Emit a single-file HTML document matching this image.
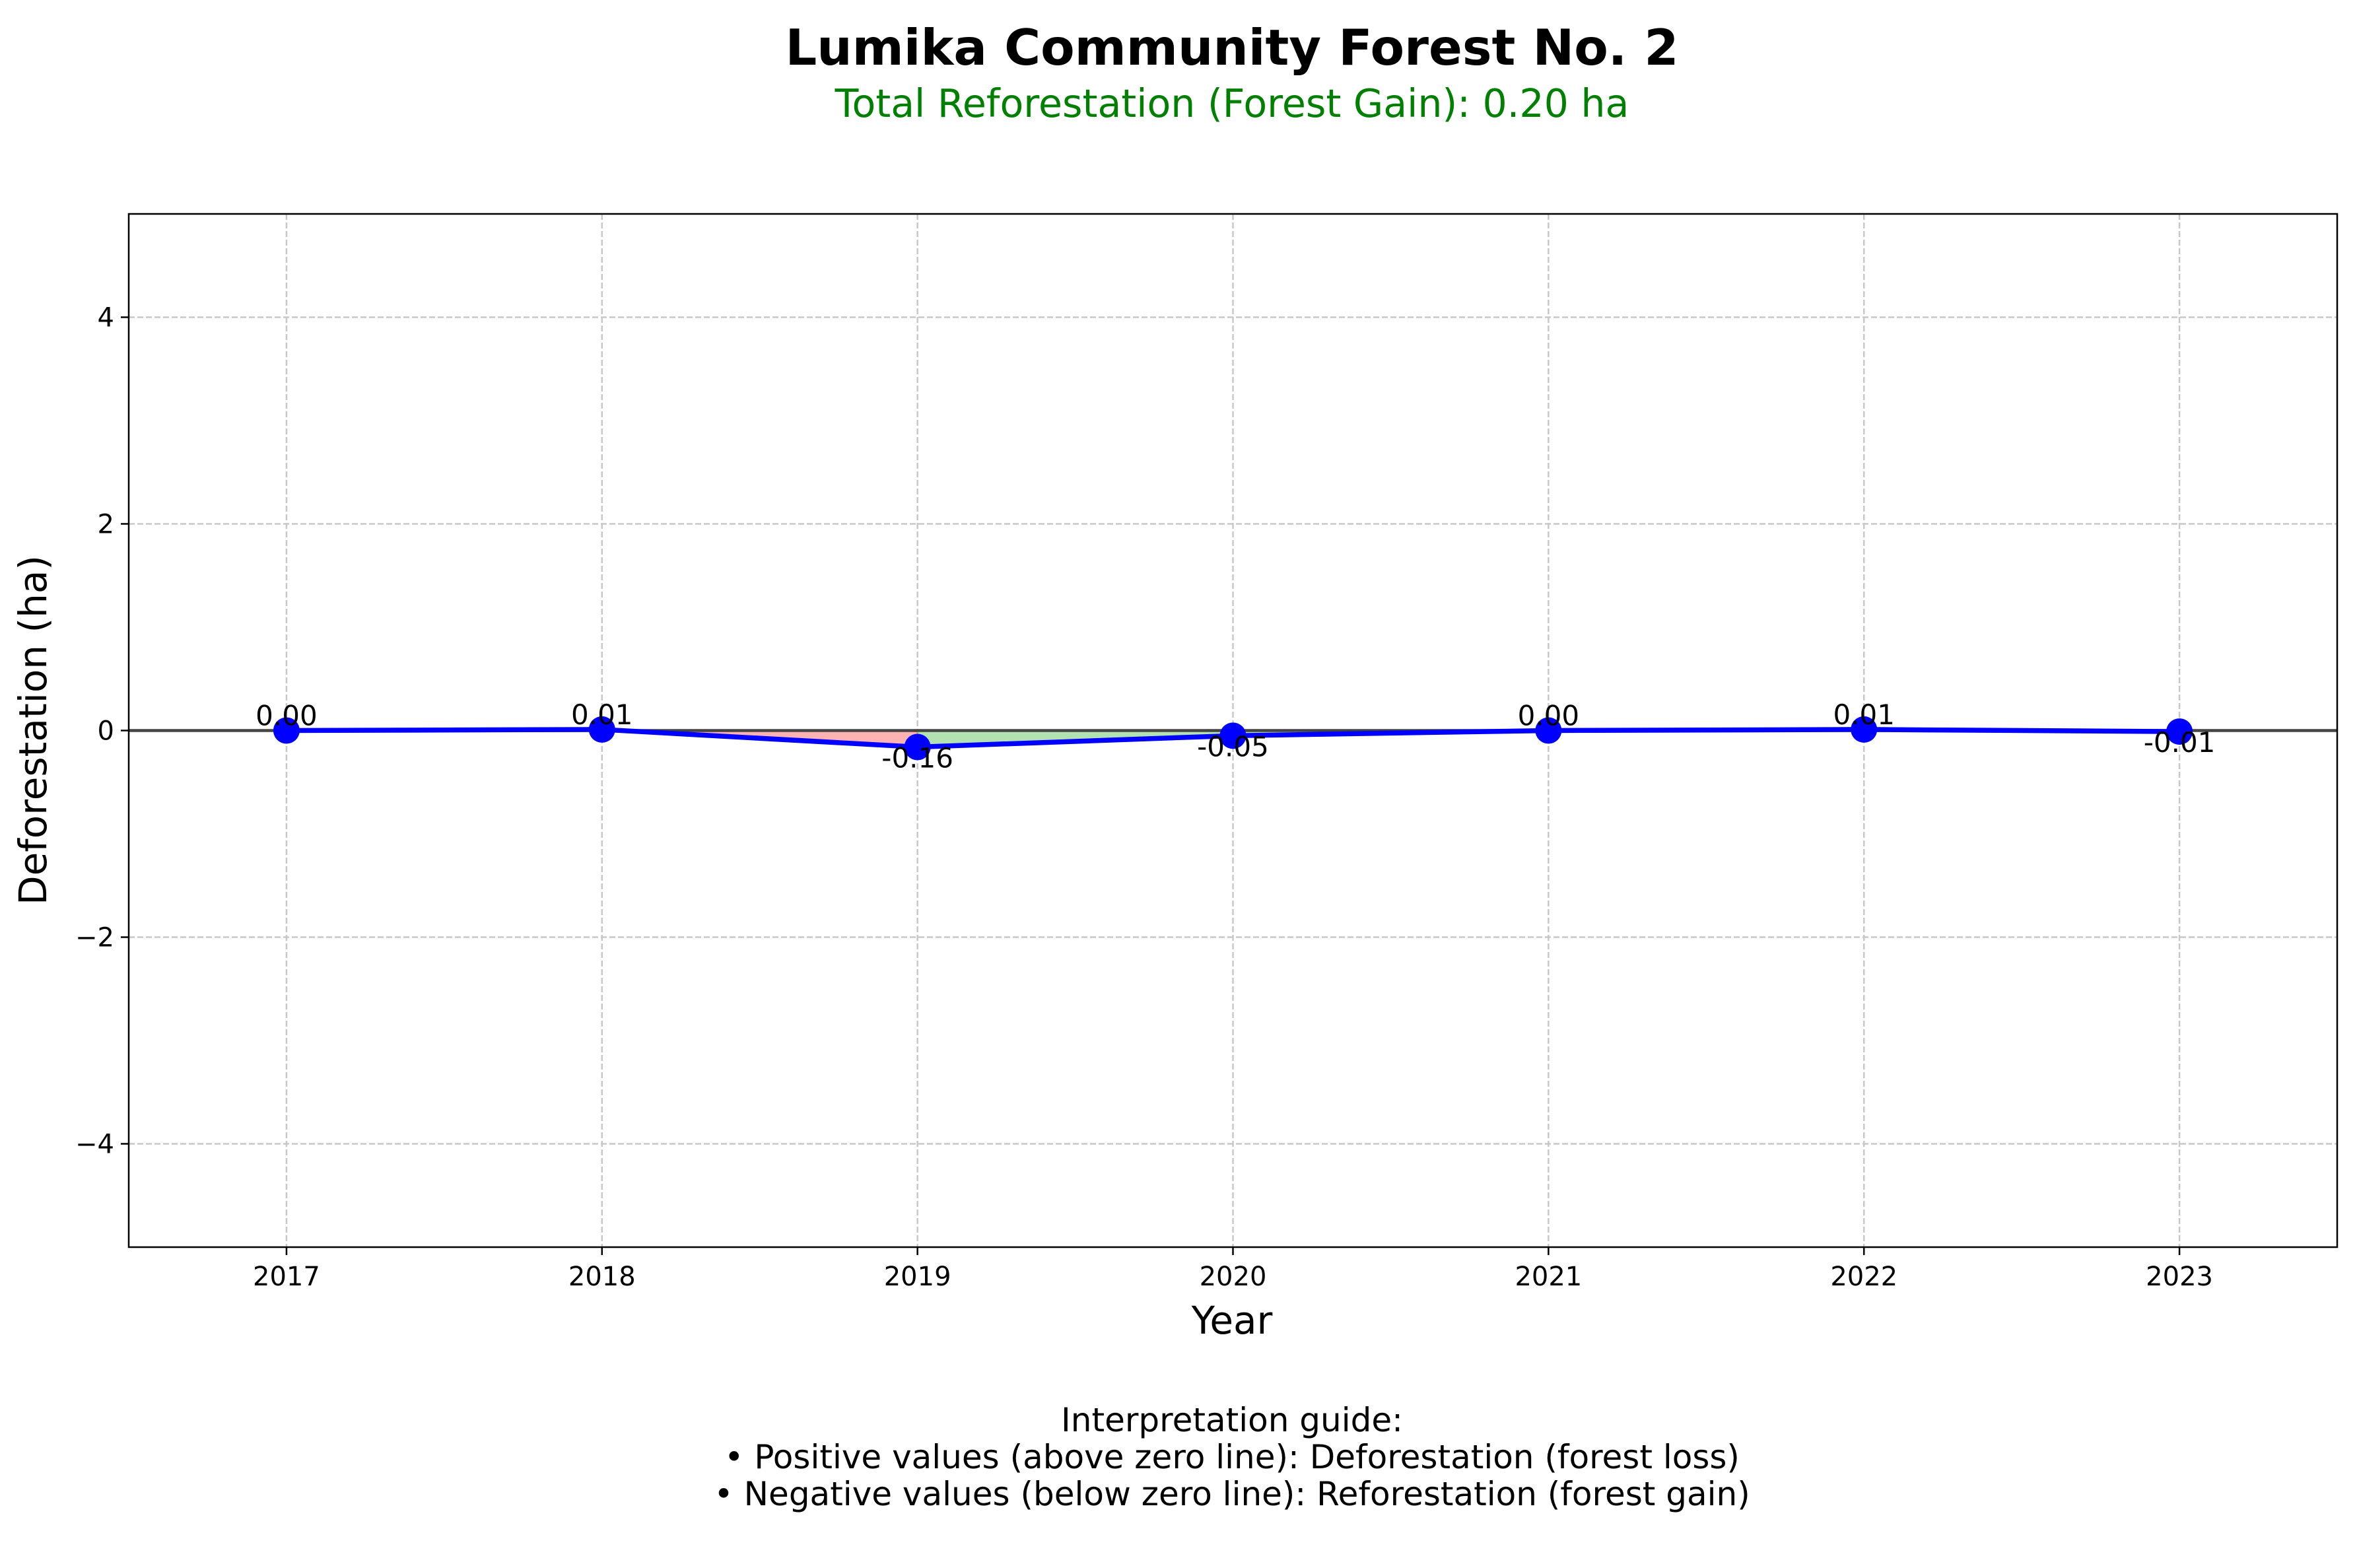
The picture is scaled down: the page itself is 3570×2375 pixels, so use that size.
<!DOCTYPE html>
<html><head><meta charset="utf-8"><style>
body{margin:0;background:#fff}
svg text{font-family:"DejaVu Sans","Liberation Sans",sans-serif}
</style></head><body>
<svg width="3570" height="2370" viewBox="0 0 3570 2370" xmlns="http://www.w3.org/2000/svg">
<g id="grid"></g>
<g id="fills"></g>
<line x1="195" x2="3540" y1="1106.5" y2="1106.5" stroke="#444" stroke-width="4.5"/>
<g id="series"></g>
<rect x="195" y="324" width="3345" height="1565" fill="none" stroke="#000" stroke-width="2.5"/>
<g id="ticks"></g>
<text x="1866" y="98" font-size="75" font-weight="bold" text-anchor="middle">Lumika Community Forest No. 2</text>
<text x="1866" y="177" font-size="58.5" fill="green" text-anchor="middle">Total Reforestation (Forest Gain): 0.20 ha</text>
<text x="1866" y="2020" font-size="58" text-anchor="middle">Year</text>
<text transform="translate(70,1106) rotate(-90)" font-size="58" text-anchor="middle">Deforestation (ha)</text>
<g font-size="50" text-anchor="middle">
<text x="1866" y="2168">Interpretation guide:</text>
<text x="1866" y="2224">• Positive values (above zero line): Deforestation (forest loss)</text>
<text x="1866" y="2280">• Negative values (below zero line): Reforestation (forest gain)</text>
</g>
</svg>
<script>
const years=[2017,2018,2019,2020,2021,2022,2023];
const values=[0.00,0.01,-0.16,-0.05,0.00,0.01,-0.01];
const labels=["0.00","0.01","-0.16","-0.05","0.00","0.01","-0.01"];
const yTicks=[-4,-2,0,2,4];
const yTickLabels=["\u22124","\u22122","0","2","4"];
const NS="http://www.w3.org/2000/svg";
const L=195,R=3540,T=324,B=1889;
function xs(v){return L+(v-2016.5)/7*(R-L);}
function ys(v){return B-(v+5)/10*(B-T);}
function mk(tag,attrs,parent){const e=document.createElementNS(NS,tag);for(const k in attrs)e.setAttribute(k,attrs[k]);document.getElementById(parent).appendChild(e);return e;}
years.forEach((y,i)=>{
 const g=mk('line',{x1:xs(y),x2:xs(y),y1:T,y2:B,stroke:'#c8c8c8','stroke-width':2.5,'stroke-dasharray':'9,4'},'grid');
 
 
 const t=mk('line',{x1:xs(y),x2:xs(y),y1:B,y2:B+12,stroke:'#000','stroke-width':2.5},'ticks');
 
 
 const tl=mk('text',{x:xs(y),y:B+58,'font-size':40,'text-anchor':'middle'},'ticks');
 tl.textContent=y;
 
 
});
yTicks.forEach((v,i)=>{
 if(v!==0){const g=mk('line',{x1:L,x2:R,y1:ys(v),y2:ys(v),stroke:'#c8c8c8','stroke-width':2.5,'stroke-dasharray':'9,4'},'grid');
 
 }
 const t=mk('line',{x1:L-12,x2:L,y1:ys(v),y2:ys(v),stroke:'#000','stroke-width':2.5},'ticks');
 
 
 const tl=mk('text',{x:L-22,y:ys(v)+14,'font-size':40,'text-anchor':'end'},'ticks');
 tl.textContent=yTickLabels[i];
 
 
});
for(let i=0;i<years.length-1;i++){
 const a=values[i],b=values[i+1];
 let col=null;
 if(a>0&&b<=0)col='rgba(255,0,0,0.3)';
 else if(a<0||b<0&&a<=0)col='rgba(0,160,0,0.3)';
 if(i>=4)col=null;
 if(!col)continue;
 const p=mk('polygon',{points:`${xs(years[i])},${ys(0)} ${xs(years[i])},${ys(a)} ${xs(years[i+1])},${ys(b)} ${xs(years[i+1])},${ys(0)}`,fill:col},'fills');
 
 
}
const line=mk('polyline',{points:years.map((y,i)=>xs(y)+','+ys(values[i])).join(' '),fill:'none',stroke:'#0000ff','stroke-width':7.5,'stroke-linejoin':'round'},'series');


years.forEach((y,i)=>{
 const c=mk('circle',{cx:xs(y),cy:ys(values[i]),r:20,fill:'#0000ff'},'series');
 
 
 const neg=values[i]<0;
 const t=mk('text',{x:xs(y),y:neg?ys(values[i])+31:ys(values[i])-8,'font-size':42,'text-anchor':'middle'},'series');
 t.textContent=labels[i];
 
 
});
</script>
</body></html>
